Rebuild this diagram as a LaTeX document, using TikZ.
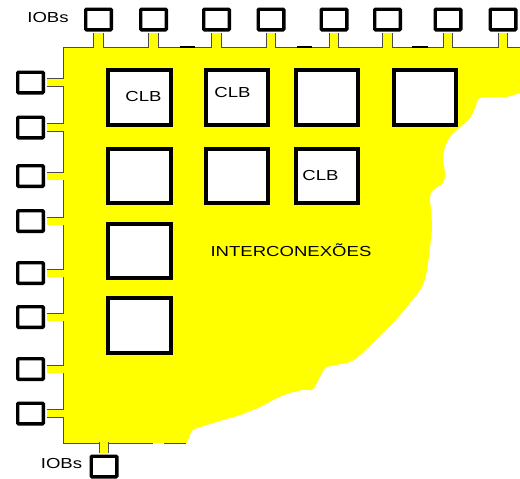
\documentclass[tikz,border=0pt]{standalone}
\usepackage{fontspec}
\newfontfamily\arialw[FakeStretch=1.28]{Liberation Sans}
\definecolor{ylw}{RGB}{255,255,0}

\tikzset{
	pad/.style={draw, line width=3.3pt, fill=white, rounded corners=1pt, minimum width=25.7pt, minimum height=20.7pt, inner sep=0pt},
	clb/.style={draw, line width=3.8pt, fill=white, minimum width=62.5pt, minimum height=54.5pt, inner sep=0pt},
	stub/.style={draw=black!70, line width=0.9pt, double=ylw, shorten <=1.6pt, shorten >=-1pt},
	topstub/.style={stub, double distance=8.5pt},
	sidestub/.style={stub, double distance=7pt},
	rim/.style={black!70, line width=0.9pt},
	lbl/.style={font=\arialw\fontsize{14.5}{17}\selectfont, inner sep=0pt, anchor=base},
}

\begin{document}
\begin{tikzpicture}[x=1pt, y=-1pt]
	\useasboundingbox (0,0) rectangle (520,479);
	% interconnect area
	\fill[ylw] (63,47) -- (520,47) -- (520,93) -- plot[smooth] coordinates {(507,97) (480,98) (476,106) (470,118) (460,127) (450,137) (445,147) (443,160) (445,173) (443,183) (433,190) (430,197) (431,210) (432,227) (430,247) (427,270) (422,287) (410,303) (393,323) (373,343) (360,355) (350,362) (327,367) (322,373) (313,389) (303,390) (290,393) (277,398) (260,407) (240,415) (220,421) (197,428) (192,431) (188,440) (187,443)} -- (63,443) -- cycle;
	\draw[rim] (520,47) -- (63,47) -- (63,443) -- (153,443);
	\draw[rim] (164,443) -- (186,443);
	\draw[line width=2pt] (180,47) -- (195,47);
	\draw[line width=2pt] (297,47) -- (312,47);
	\draw[line width=2pt] (412,47) -- (428,47);
	\coordinate (top) at (0,47);
	\coordinate (left) at (63,0);
	\coordinate (bot) at (0,443);
	% CLBs
	\node[clb] (c11) at (139.5,97.5) {};
	\node[clb] (c12) at (237,97.5) {};
	\node[clb] (c13) at (327,97.5) {};
	\node[clb] (c14) at (425,97.5) {};
	\node[clb] (c21) at (139.5,176) {};
	\node[clb] (c22) at (237,176) {};
	\node[clb] (c23) at (327,176) {};
	\node[clb] (c31) at (139.5,251) {};
	\node[clb] (c41) at (139.5,325.5) {};
	% top IOBs
	\node[pad] (t1) at (98.5,19.5) {};
	\node[pad] (t2) at (153.5,19.5) {};
	\node[pad] (t3) at (216.5,19.5) {};
	\node[pad] (t4) at (271,19.5) {};
	\node[pad] (t5) at (334,19.5) {};
	\node[pad] (t6) at (387.5,19.5) {};
	\node[pad] (t7) at (448,19.5) {};
	\node[pad] (t8) at (503,19.5) {};
	\draw[topstub] (t1.south) -- (t1.south |- top);
	\draw[topstub] (t2.south) -- (t2.south |- top);
	\draw[topstub] (t3.south) -- (t3.south |- top);
	\draw[topstub] (t4.south) -- (t4.south |- top);
	\draw[topstub] (t5.south) -- (t5.south |- top);
	\draw[topstub] (t6.south) -- (t6.south |- top);
	\draw[topstub] (t7.south) -- (t7.south |- top);
	\draw[topstub] (t8.south) -- (t8.south |- top);
	% left IOBs
	\node[pad] (l1) at (30.5,82.5) {};
	\node[pad] (l2) at (30.5,127.5) {};
	\node[pad] (l3) at (30.5,176) {};
	\node[pad] (l4) at (30.5,221) {};
	\node[pad] (l5) at (30.5,273) {};
	\node[pad] (l6) at (30.5,317) {};
	\node[pad] (l7) at (30.5,369) {};
	\node[pad] (l8) at (30.5,413.5) {};
	\draw[sidestub] (l1.east) -- (l1.east -| left);
	\draw[sidestub] (l2.east) -- (l2.east -| left);
	\draw[sidestub] (l3.east) -- (l3.east -| left);
	\draw[sidestub] (l4.east) -- (l4.east -| left);
	\draw[sidestub] (l5.east) -- (l5.east -| left);
	\draw[sidestub] (l6.east) -- (l6.east -| left);
	\draw[sidestub] (l7.east) -- (l7.east -| left);
	\draw[sidestub] (l8.east) -- (l8.east -| left);
	% bottom IOB
	\node[pad] (b1) at (104,466.5) {};
	\draw[topstub] (b1.north) -- (b1.north |- bot);
	% labels
	\node[lbl] (iobtop) at (48,22) {IOBs};
	\node[lbl] (iobbot) at (61.5,468) {IOBs};
	\node[lbl] (clbl1) at (143.5,101) {CLB};
	\node[lbl] (clbl2) at (232.5,97) {CLB};
	\node[lbl] (clbl3) at (320.5,180) {CLB};
	\node[lbl] (inter) at (291,256) {INTERCONEXÕES};
\end{tikzpicture}
\end{document}
